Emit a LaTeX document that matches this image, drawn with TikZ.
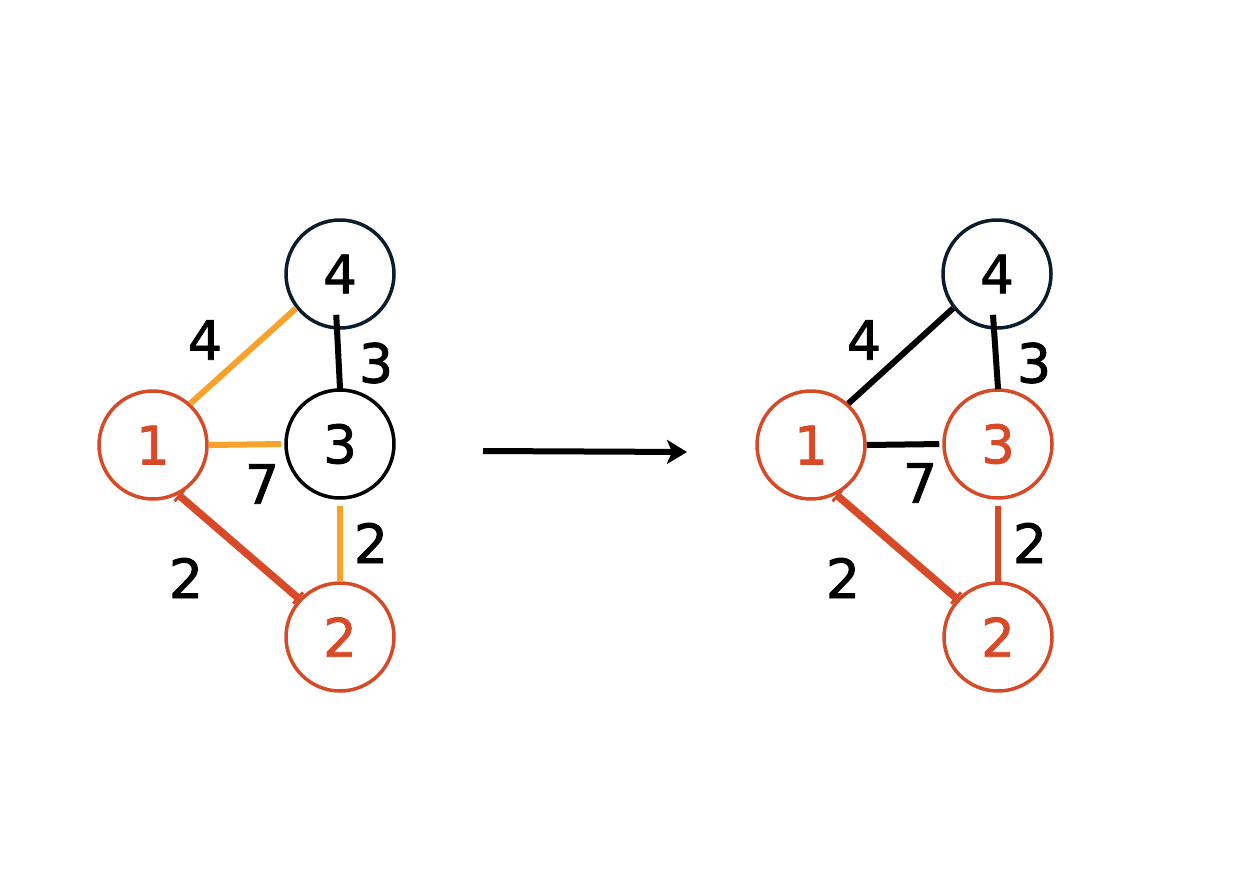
\documentclass[tikz,border=0pt]{standalone}
\usepackage{fontspec}
\setmainfont{DejaVu Sans}[FakeBold=1.6]
\usetikzlibrary{arrows.meta}
\definecolor{myred}{HTML}{D84A27}
\definecolor{myorange}{HTML}{F9A22B}
\definecolor{mynavy}{HTML}{0B1C2C}
\begin{document}
\begin{tikzpicture}[x=1pt,y=-1pt,
  vertex/.style={circle,draw,line width=3.5pt,minimum size=108pt,inner sep=0pt,font=\fontsize{53}{53}\selectfont},
  redv/.style={vertex,draw=myred,text=myred},
  blackv/.style={vertex,draw=black,text=black},
  navyv/.style={vertex,draw=mynavy,text=black},
  lbl/.style={font=\fontsize{54}{54}\selectfont,inner sep=0pt},
  edge/.style={line width=6pt},
  oedge/.style={edge,draw=myorange},
  bedge/.style={edge,draw=black},
  redge/.style={edge,draw=myred},
  rdiag/.style={line width=7.5pt,draw=myred,{Bar[width=15pt,line width=3pt]}-{Bar[width=15pt,line width=3pt]}}
]
\useasboundingbox (0,0) rectangle (1260,891);
% ---------- left graph ----------
\node[navyv]  (a4) at (340,274) {4};
\node[blackv] (a3) at (340,444) {3};
\node[redv]   (a1) at (153,445) {1};
\node[redv]   (a2) at (340,637) {2};
\draw[oedge] (a1.48) -- (a4.218);
\draw[bedge,shorten <=-15pt,shorten >=-1pt] ([xshift=-3pt]a4.south) -- (a3.north);
\draw[oedge,shorten >=3pt] (a1.east) -- (a3.west);
\draw[oedge,shorten <=6pt,shorten >=-1pt] (a3.south) -- (a2.north);
\draw[rdiag] (a1.-63) -- (a2.137);
\node[lbl] (la14) at (205,340) {4};
\node[lbl] (la43) at (376,363) {3};
\node[lbl] (la13) at (262,484) {7};
\node[lbl] (la32) at (371,543) {2};
\node[lbl] (la12) at (186,578) {2};
% ---------- arrow ----------
\coordinate (s) at (483,451);
\coordinate (t) at (687,452);
\draw[line width=6pt,-{Stealth[length=20pt,width=24pt,inset=5pt]}] (s) -- (t);
% ---------- right graph ----------
\node[navyv]  (b4) at (997,274) {4};
\node[redv]   (b3) at (998,444) {3};
\node[redv]   (b1) at (811,445) {1};
\node[redv]   (b2) at (998,637) {2};
\draw[bedge] (b1.48) -- (b4.218);
\draw[bedge,shorten <=-15pt,shorten >=-1pt] ([xshift=-3pt]b4.south) -- (b3.north);
\draw[bedge,shorten >=3pt] (b1.east) -- (b3.west);
\draw[redge,shorten <=6pt,shorten >=-1pt] (b3.south) -- (b2.north);
\draw[rdiag] (b1.-63) -- (b2.137);
\node[lbl] (lb14) at (864,340) {4};
\node[lbl] (lb43) at (1034,363) {3};
\node[lbl] (lb13) at (920,483) {7};
\node[lbl] (lb32) at (1030,543) {2};
\node[lbl] (lb12) at (843,578) {2};
\end{tikzpicture}
\end{document}
